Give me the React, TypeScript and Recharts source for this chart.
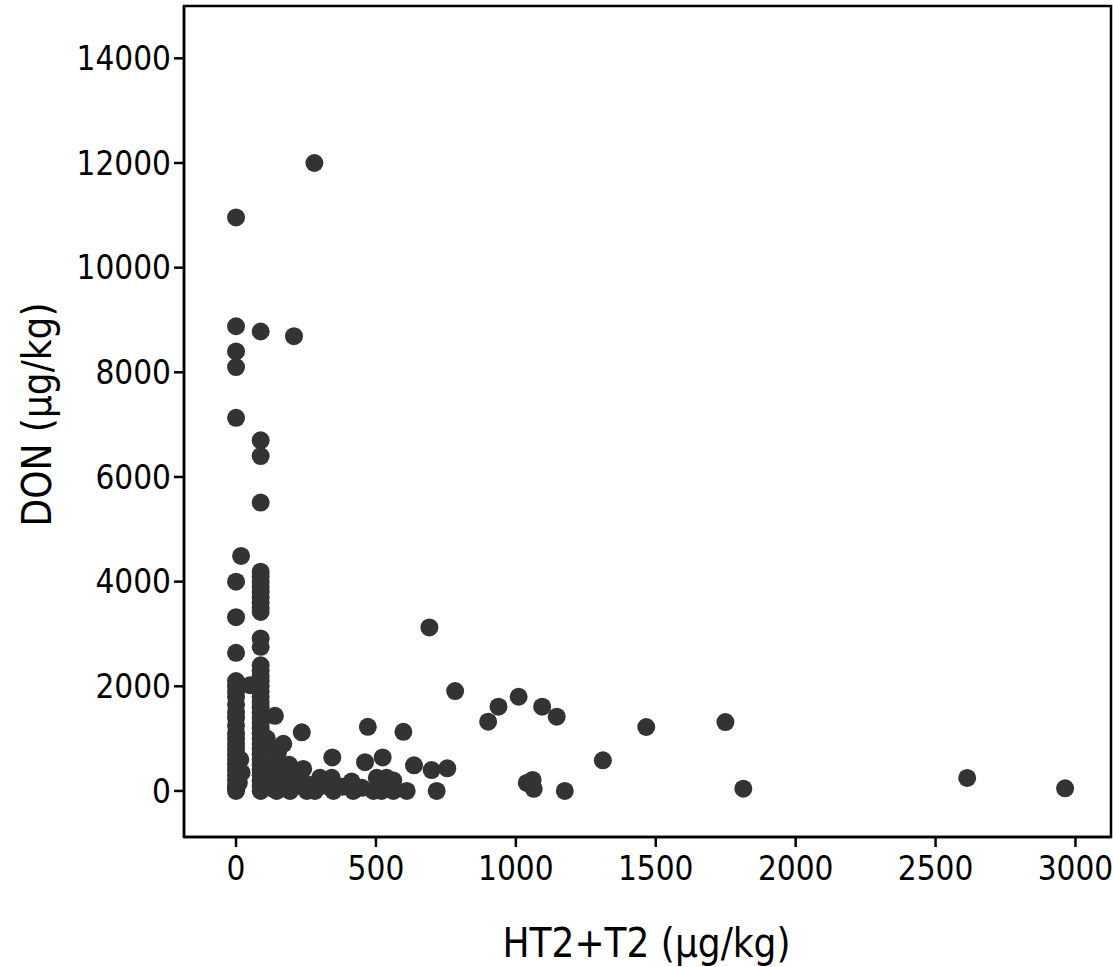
import React from 'react';
import { ScatterChart, Scatter, XAxis, YAxis, ReferenceArea } from 'recharts';

// Samples with HT2+T2 near 0 µg/kg
const col0X = 0;
const col0Y = [10960, 8880, 8400, 8100, 7130, 4000, 3320, 2640, 2100, 2000, 1900, 1800, 1650, 1500, 1400, 1250, 1100, 1000, 900, 800, 700, 600, 500, 400, 300, 200, 100, 50, 0];
// Samples with HT2+T2 near 88 µg/kg
const col90X = 88;
const col90Y = [8780, 6700, 6400, 5510, 4190, 4100, 4000, 3900, 3800, 3700, 3600, 3500, 3420, 2915, 2755, 2400, 2300, 2200, 2100, 2000, 1900, 1800, 1700, 1600, 1500, 1400, 1300, 1200, 1100, 1000, 900, 800, 700, 600, 500, 400, 300, 200, 100, 0];
// Remaining samples
const otherX = [15, 20, 10, 18, 280, 207, 50, 139, 235, 169, 150, 145, 130, 120, 110, 130, 145, 193, 253, 282, 348, 419, 491, 520, 562, 610, 717, 179, 240, 200, 300, 342, 413, 503, 538, 562, 344, 461, 524, 471, 598, 636, 699, 755, 691, 783, 938, 1010, 1094, 1146, 901, 1466, 1749, 1311, 1039, 1060, 1064, 1175, 1813, 2613, 2963, 160, 220, 260, 320, 380, 450, 250, 190, 110, 120, 150, 170, 130, 200, 230];
const otherY = [600, 350, 150, 4490, 12000, 8690, 2020, 1435, 1120, 900, 740, 600, 450, 300, 150, 50, 0, 0, 0, 0, 0, 0, 0, 0, 0, 0, 0, 325, 420, 200, 250, 250, 180, 250, 250, 200, 640, 550, 640, 1225, 1130, 490, 400, 433, 3125, 1909, 1610, 1800, 1610, 1419, 1323, 1222, 1317, 586, 153, 210, 40, 0, 44, 248, 50, 350, 150, 120, 100, 80, 60, 60, 500, 1000, 800, 300, 200, 100, 50, 100];

const xTicks = [0, 500, 1000, 1500, 2000, 2500, 3000];
const yTicks = [0, 2000, 4000, 6000, 8000, 10000, 12000, 14000];
const xDomain = [-186, 3127];
const yDomain = [-880, 15000];

const data = [
  ...col0Y.map((y) => ({ x: col0X, y })),
  ...col90Y.map((y) => ({ x: col90X, y })),
  ...otherX.map((x, i) => ({ x, y: otherY[i] })),
];

const FONT = '"DejaVu Sans Condensed", "DejaVu Sans", sans-serif';
const tickStyle = { fill: '#000', fontSize: 33, fontFamily: FONT };

const Dot = (props: any) => <circle cx={props.cx} cy={props.cy} r={9} fill="#333333" />;

const YLabel = (props: any) => {
  const vb = props.viewBox || { x: 0, y: 6, width: 184, height: 831 };
  const cx = 51;
  const cy = vb.y + vb.height / 2 - 7;
  return (
    <text x={cx} y={cy} transform={`rotate(-90 ${cx} ${cy})`} textAnchor="middle" fill="#000" fontSize={40} fontFamily={FONT}>
      DON (µg/kg)
    </text>
  );
};

const XLabel = (props: any) => {
  const vb = props.viewBox || { x: 184, y: 837, width: 927, height: 130 };
  const cx = vb.x + vb.width / 2 - 1;
  return (
    <text x={cx} y={957} textAnchor="middle" fill="#000" fontSize={40} fontFamily={FONT}>
      HT2+T2 (µg/kg)
    </text>
  );
};

export default function App() {
  return (
    <div style={{ position: 'absolute', left: 0, top: 0, width: 1113, height: 967, background: '#fff' }}>
      <ScatterChart width={1113} height={967} margin={{ top: 6, right: 2, left: 0, bottom: 0 }}>
        <XAxis
          type="number"
          dataKey="x"
          domain={xDomain}
          ticks={xTicks}
          allowDataOverflow
          height={130}
          tickSize={10}
          tickMargin={10}
          tick={tickStyle}
          axisLine={{ stroke: '#000', strokeWidth: 2.5 }}
          tickLine={{ stroke: '#000', strokeWidth: 2.5 }}
          label={<XLabel />}
        />
        <YAxis
          type="number"
          dataKey="y"
          domain={yDomain}
          ticks={yTicks}
          allowDataOverflow
          width={184}
          tickSize={10}
          tickMargin={3}
          tick={tickStyle}
          axisLine={{ stroke: '#000', strokeWidth: 2.5 }}
          tickLine={{ stroke: '#000', strokeWidth: 2.5 }}
          label={<YLabel />}
        />
        <ReferenceArea x1={xDomain[0]} x2={xDomain[1]} y1={yDomain[0]} y2={yDomain[1]} fill="none" stroke="#000" strokeWidth={2.5} />
        <Scatter data={data} shape={<Dot />} isAnimationActive={false} />
      </ScatterChart>
    </div>
  );
}
